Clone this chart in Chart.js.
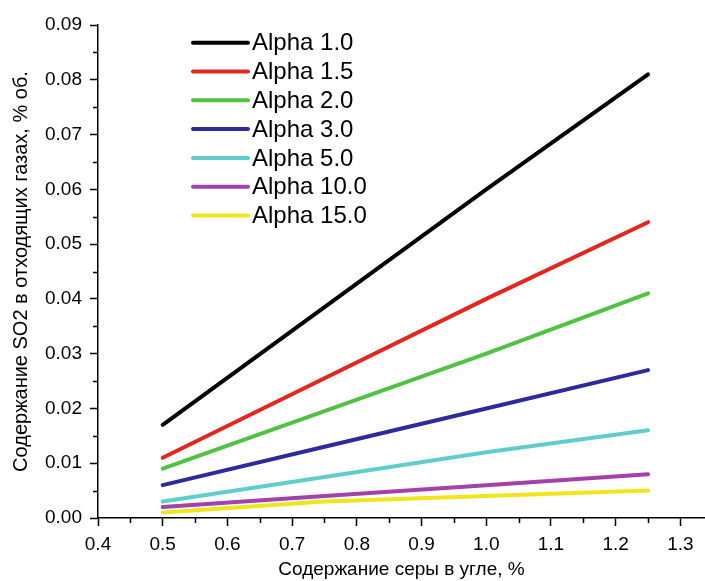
<!DOCTYPE html>
<html>
<head>
<meta charset="utf-8">
<script src="https://cdn.jsdelivr.net/npm/chart.js@4"></script>
<style>
  html, body { margin: 0; padding: 0; background: #fff; }
  #wrap { width: 705px; height: 581px; }
</style>
</head>
<body>
<div id="wrap"><canvas id="so2"></canvas></div>
<script>
// sulfur content in coal, %
const sulfur = [0.5, 0.75, 1.0, 1.25];

// SO2 in flue gas, % vol, per excess-air ratio
const alpha_1_0  = [0.017, 0.0385, 0.060, 0.081];
const alpha_1_5  = [0.011, 0.0255, 0.040, 0.054];
const alpha_2_0  = [0.009, 0.0195, 0.030, 0.041];
const alpha_3_0  = [0.006, 0.013, 0.020, 0.027];
const alpha_5_0  = [0.003, 0.0075, 0.012, 0.016];
const alpha_10_0 = [0.002, 0.004, 0.006, 0.008];
const alpha_15_0 = [0.001, 0.003, 0.004, 0.005];

const seriesLabels = ['Alpha 1.0', 'Alpha 1.5', 'Alpha 2.0', 'Alpha 3.0', 'Alpha 5.0', 'Alpha 10.0', 'Alpha 15.0'];
const seriesColors = ['#000000', '#e3261e', '#50c242', '#2d2a9e', '#60cdcd', '#a341a8', '#f0e41c'];

const xTicks = [];  // majors 0.4..1.3, minors in between
for (let i = 8; i <= 26; i++) xTicks.push(i * 0.05);
const yTicks = [];
for (let i = 0; i <= 18; i++) yTicks.push(i * 0.005);

const FONT = 'Liberation Sans, Arial, sans-serif';

const isMajor = (v, step) => Math.abs(v / step - Math.round(v / step)) < 1e-6;

// legend drawn inside plot area, Origin style
const insideLegend = {
  id: 'insideLegend',
  afterDraw(chart) {
    const ctx = chart.ctx;
    ctx.save();
    ctx.font = '24px ' + FONT;
    ctx.textBaseline = 'middle';
    chart.data.datasets.forEach((ds, i) => {
      const y = 42.7 + i * 28.8;
      ctx.strokeStyle = ds.borderColor;
      ctx.lineWidth = 4;
      ctx.lineCap = 'round';
      ctx.beginPath();
      ctx.moveTo(193, y);
      ctx.lineTo(248, y);
      ctx.stroke();
      ctx.fillStyle = '#000';
      ctx.fillText(ds.label, 252, y + 1);
    });
    ctx.restore();
  }
};

// short minor ticks (majors come from the grid options)
const minorTicks = {
  id: 'minorTicks',
  afterDraw(chart) {
    const ctx = chart.ctx;
    const xs = chart.scales.x, ys = chart.scales.y;
    ctx.save();
    ctx.strokeStyle = '#000';
    ctx.lineWidth = 1.5;
    ctx.beginPath();
    xs.ticks.forEach(t => {
      if (isMajor(t.value, 0.1)) return;
      const px = Math.round(xs.getPixelForValue(t.value)) + 0.5;
      ctx.moveTo(px, xs.top);
      ctx.lineTo(px, xs.top + 5);
    });
    ys.ticks.forEach(t => {
      if (isMajor(t.value, 0.01)) return;
      const py = Math.round(ys.getPixelForValue(t.value)) + 0.5;
      ctx.moveTo(ys.right, py);
      ctx.lineTo(ys.right - 5, py);
    });
    ctx.stroke();
    ctx.restore();
  }
};

const series = [alpha_1_0, alpha_1_5, alpha_2_0, alpha_3_0, alpha_5_0, alpha_10_0, alpha_15_0];

const axisGrid = (step) => ({
  drawOnChartArea: false,
  drawTicks: true,
  tickLength: 8,
  color: '#000',
  tickColor: (c) => (c.tick && isMajor(c.tick.value, step)) ? '#000' : 'rgba(0,0,0,0)',
  tickWidth: 1.5
});

new Chart(document.getElementById('so2'), {
  type: 'line',
  data: {
    labels: sulfur,
    datasets: series.map((vals, i) => ({
      label: seriesLabels[i],
      data: vals.map((v, j) => ({x: sulfur[j], y: v})),
      borderColor: seriesColors[i],
      backgroundColor: seriesColors[i],
      borderWidth: 4,
      borderCapStyle: 'round',
      pointRadius: 0,
      tension: 0,
      fill: false
    }))
  },
  options: {
    responsive: true,
    maintainAspectRatio: false,
    animation: false,
    layout: { padding: { top: 25, right: 0, left: 0, bottom: 0 } },
    plugins: {
      legend: { display: false },
      tooltip: { enabled: false }
    },
    scales: {
      x: {
        type: 'linear',
        min: 0.4,
        max: 1.338,
        afterBuildTicks: (scale) => { scale.ticks = xTicks.map(v => ({value: v})); },
        afterFit: (scale) => { scale.height = 63; },
        border: { display: true, color: '#000', width: 1.5 },
        grid: axisGrid(0.1),
        ticks: {
          autoSkip: false,
          maxRotation: 0,
          color: '#000',
          padding: 7,
          font: { family: FONT, size: 19 },
          callback: (v) => isMajor(v, 0.1) ? Number(v).toFixed(1) : ''
        },
        title: {
          display: true,
          text: 'Содержание серы в угле, %',
          color: '#000',
          font: { family: FONT, size: 19 },
          padding: { top: 0, bottom: 0 }
        }
      },
      y: {
        type: 'linear',
        min: 0,
        max: 0.09,
        afterBuildTicks: (scale) => { scale.ticks = yTicks.map(v => ({value: v})); },
        afterFit: (scale) => { scale.width = 98; },
        border: { display: true, color: '#000', width: 1.5 },
        grid: axisGrid(0.01),
        ticks: {
          autoSkip: false,
          color: '#000',
          padding: 8,
          font: { family: FONT, size: 19 },
          callback: (v) => isMajor(v, 0.01) ? Number(v).toFixed(2) : ''
        },
        title: {
          display: true,
          text: 'Содержание SO2 в отходящих газах, % об.',
          color: '#000',
          font: { family: FONT, size: 20 },
          padding: { top: 9, bottom: 4 }
        }
      }
    }
  },
  plugins: [insideLegend, minorTicks]
});
</script>
</body>
</html>
